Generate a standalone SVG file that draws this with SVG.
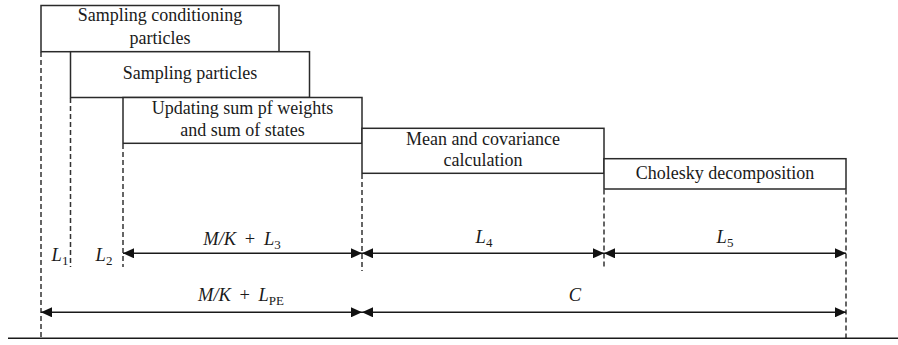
<svg xmlns="http://www.w3.org/2000/svg" width="898" height="345" viewBox="0 0 898 345">
  <style>
    .box { fill: #ffffff; stroke: #2a2a2a; stroke-width: 1.5; }
    .lbl { font-family: "Liberation Serif", "Times New Roman", serif; font-size: 18px; fill: #1a1a1a; text-anchor: middle; }
    .math { font-family: "Liberation Serif", "Times New Roman", serif; font-size: 18.5px; fill: #1a1a1a; text-anchor: middle; font-style: italic; word-spacing: 4px; }
    .sub { font-style: normal; font-size: 13px; }
    .up { font-style: normal; }
    .guide { stroke: #333333; stroke-width: 1.5; stroke-dasharray: 5 3; fill: none; }
    .dim { stroke: #1a1a1a; stroke-width: 1.4; fill: none; marker-start: url(#head); marker-end: url(#head); }
    .base { stroke: #1a1a1a; stroke-width: 1.5; }
  </style>
  <defs>
    <marker id="head" markerUnits="userSpaceOnUse" markerWidth="11" markerHeight="10" refX="11" refY="5" orient="auto-start-reverse">
      <path d="M0,0 L11,5 L0,10 Z" fill="#111111"/>
    </marker>
  </defs>

  <rect width="898" height="345" fill="#ffffff"/>

  <!-- guide lines, dimension arrows and time axis -->
  <g id="connectors">
    <line class="guide" x1="41" y1="52" x2="41" y2="340"/>
    <line class="guide" x1="70.5" y1="98" x2="70.5" y2="267"/>
    <line class="guide" x1="123" y1="144" x2="123" y2="267"/>
    <line class="guide" x1="362" y1="174" x2="362" y2="271"/>
    <line class="guide" x1="604" y1="189.5" x2="604" y2="268"/>
    <line class="guide" x1="846" y1="189.5" x2="846" y2="340"/>

    <line class="dim" x1="123" y1="253.3" x2="362" y2="253.3"/>
    <line class="dim" x1="362" y1="253.3" x2="604" y2="253.3"/>
    <line class="dim" x1="604" y1="253.3" x2="846" y2="253.3"/>
    <line class="dim" x1="41" y1="312.3" x2="362" y2="312.3"/>
    <line class="dim" x1="362" y1="312.3" x2="846" y2="312.3"/>

    <line class="base" x1="8" y1="338.3" x2="898" y2="338.3"/>
  </g>

  <g id="labels">
    <text class="math" x="60" y="261">L<tspan class="sub" dy="4">1</tspan></text>
    <text class="math" x="104" y="261">L<tspan class="sub" dy="4">2</tspan></text>
    <text class="math" x="242" y="245">M/K <tspan class="up">+</tspan> L<tspan class="sub" dy="4">3</tspan></text>
    <text class="math" x="484" y="243">L<tspan class="sub" dy="4">4</tspan></text>
    <text class="math" x="725" y="243">L<tspan class="sub" dy="4">5</tspan></text>
    <text class="math" x="241" y="301">M/K <tspan class="up">+</tspan> L<tspan class="sub" dy="4">PE</tspan></text>
    <text class="math" x="575" y="301">C</text>
  </g>

  <g id="node-sampling-conditioning">
    <rect class="box" x="41" y="5.5" width="238" height="46.2"/>
    <text class="lbl" x="160" y="21">Sampling conditioning</text>
    <text class="lbl" x="160" y="44">particles</text>
  </g>

  <g id="node-sampling-particles">
    <rect class="box" x="70.5" y="51.7" width="239" height="45.8"/>
    <text class="lbl" x="190" y="78.5">Sampling particles</text>
  </g>

  <g id="node-updating-sums">
    <rect class="box" x="123" y="97.5" width="239" height="45.8"/>
    <text class="lbl" x="242.5" y="114">Updating sum pf weights</text>
    <text class="lbl" x="242.5" y="136">and sum of states</text>
  </g>

  <g id="node-mean-covariance">
    <rect class="box" x="362" y="128.3" width="242" height="45"/>
    <text class="lbl" x="483" y="145">Mean and covariance</text>
    <text class="lbl" x="483" y="166">calculation</text>
  </g>

  <g id="node-cholesky">
    <rect class="box" x="604" y="158.7" width="242" height="30.3"/>
    <text class="lbl" x="725" y="179">Cholesky decomposition</text>
  </g>
</svg>
